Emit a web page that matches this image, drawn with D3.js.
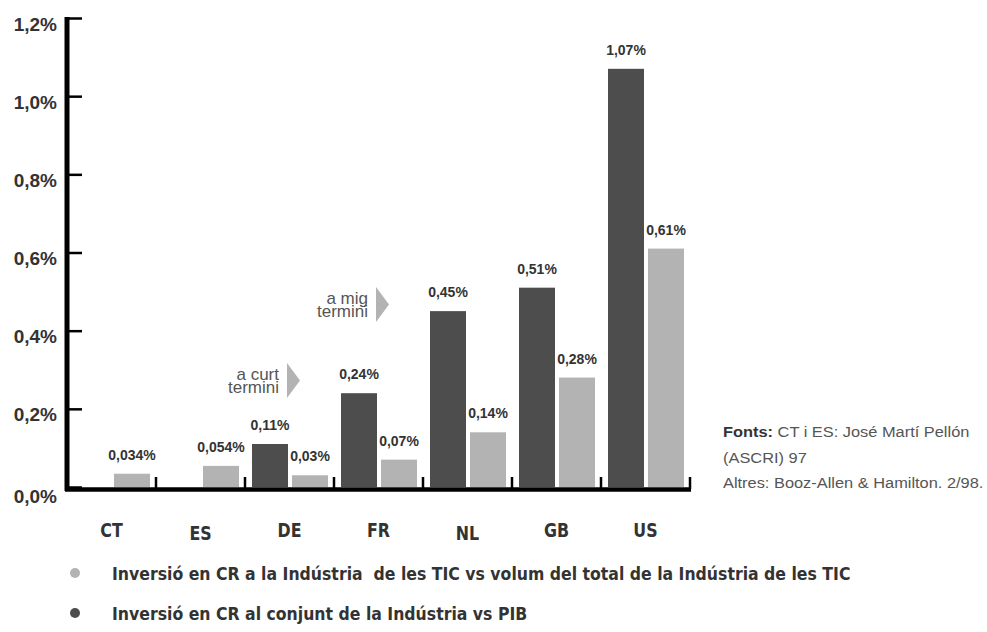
<!DOCTYPE html>
<html>
<head>
<meta charset="utf-8">
<script src="https://cdn.jsdelivr.net/npm/d3@7"></script>
<style>
  body { margin: 0; background: #fff; }
  svg { display: block; }
  .num { font-family: "Liberation Sans", Arial, sans-serif; font-weight: bold; fill: #333; }
  .narrow { font-family: "Liberation Sans Narrow", "DejaVu Sans Condensed", "Arial Narrow", sans-serif; font-weight: bold; fill: #333; white-space: pre; }
  .note { font-family: "Liberation Sans", Arial, sans-serif; fill: #555; }
</style>
</head>
<body>
<div id="chart"></div>
<script>
var categories = ["CT", "ES", "DE", "FR", "NL", "GB", "US"];
// Inversió en CR al conjunt de la Indústria vs PIB (fosc), null = sense dada
var darkValues = [null, null, 0.11, 0.24, 0.45, 0.51, 1.07];
// Inversió en CR a la Indústria de les TIC vs volum TIC (clar)
var lightValues = [0.034, 0.054, 0.03, 0.07, 0.14, 0.28, 0.61];
var yTicks = [0, 0.2, 0.4, 0.6, 0.8, 1.0, 1.2];
var legendLabels = [
    "Inversió en CR a la Indústria  de les TIC vs volum del total de la Indústria de les TIC",
    "Inversió en CR al conjunt de la Indústria vs PIB"
];
var notes = [
    {lines: ["a curt", "termini"], cat: "FR", level: 0.2725},
    {lines: ["a mig", "termini"], cat: "NL", level: 0.467}
];
var sources = ["CT i ES: José Martí Pellón", "(ASCRI) 97", "Altres: Booz-Allen & Hamilton. 2/98."];

var darkColor = "#4d4d4d", lightColor = "#b3b3b3";

var svg = d3.select("#chart").append("svg")
    .attr("width", 987)
    .attr("height", 632);

// squeeze or stretch a text to k times its natural width
function fitText(sel, k){
    sel.each(function(){
        var w = this.getComputedTextLength();
        d3.select(this).attr("textLength", w * k).attr("lengthAdjust", "spacingAndGlyphs");
    });
}

var x = d3.scaleBand()
    .domain(categories)
    .range([67, 690])
    .paddingInner(0)
    .paddingOuter(0);

var x1 = d3.scaleBand()
    .domain(["dark", "light"])
    .range([7, 83])
    .paddingInner(0.1);

var y = d3.scaleLinear()
    .domain([0, 1.2])
    .range([487, 18]);

var loc = d3.formatLocale({decimal: ",", thousands: ".", grouping: [3], currency: ["", "€"]});
var tickFmt = loc.format(".1f");
var valFmt = loc.format("~g");

// bars
var rows = [];
categories.forEach(function(c, i){
    if(darkValues[i] != null) rows.push({cat: c, key: "dark", v: darkValues[i]});
    if(lightValues[i] != null) rows.push({cat: c, key: "light", v: lightValues[i]});
});

svg.append("g").selectAll("rect")
    .data(rows)
    .enter().append("rect")
    .attr("x", function(d){ return x(d.cat) + x1(d.key); })
    .attr("width", x1.bandwidth())
    .attr("y", function(d){ return y(d.v); })
    .attr("height", function(d){ return y(0) - y(d.v); })
    .attr("fill", function(d){ return d.key == "dark" ? darkColor : lightColor; });

svg.append("g").selectAll("text")
    .data(rows)
    .enter().append("text")
    .attr("class", "num")
    .attr("font-size", 14)
    .attr("text-anchor", "middle")
    .attr("x", function(d){ return x(d.cat) + x1(d.key) + x1.bandwidth() / 2; })
    .attr("y", function(d){ return y(d.v) - 14; })
    .text(function(d){ return valFmt(d.v) + "%"; });

// y axis
var yAxis = d3.axisLeft(y)
    .tickValues(yTicks)
    .tickSizeInner(-15)
    .tickSizeOuter(0)
    .tickPadding(10)
    .tickFormat(function(d){ return tickFmt(d) + "%"; });

var gy = svg.append("g")
    .attr("transform", "translate(67,0)")
    .call(yAxis);
gy.attr("font-family", null).attr("font-size", null);
gy.select(".domain").attr("stroke", "#000").attr("stroke-width", 5).attr("d", "M0,17V491");
gy.selectAll(".tick line").attr("stroke", "#000").attr("stroke-width", 2.5);
gy.selectAll(".tick text")
    .attr("class", "num")
    .attr("font-size", 19)
    .attr("dy", function(d){ return d == 0 ? 15 : 12; });

// x axis
svg.append("line")
    .attr("x1", 65).attr("x2", x.range()[1] + 1)
    .attr("y1", y(0) + 2.5).attr("y2", y(0) + 2.5)
    .attr("stroke", "#000").attr("stroke-width", 4.5);

svg.append("g").selectAll("line")
    .data(categories)
    .enter().append("line")
    .attr("x1", function(d){ return x(d) + x.bandwidth(); })
    .attr("x2", function(d){ return x(d) + x.bandwidth(); })
    .attr("y1", y(0) - 10).attr("y2", y(0) + 2)
    .attr("stroke", "#000").attr("stroke-width", 2.5);

var labelShift = {ES: 3, NL: 3};
svg.append("g").selectAll("text")
    .data(categories)
    .enter().append("text")
    .attr("class", "narrow")
    .attr("font-size", 20)
    .attr("text-anchor", "middle")
    .attr("x", function(d){ return x(d) + x.bandwidth() / 2; })
    .attr("y", function(d){ return 537 + (labelShift[d] || 0); })
    .text(function(d){ return d; })
    .call(fitText, 0.88);

// annotations with arrows
notes.forEach(function(n){
    var tip = x(n.cat) - 34;
    var cy = y(n.level);
    svg.append("path")
        .attr("d", "M" + (tip - 13) + "," + (cy - 17.5) + "L" + tip + "," + cy + "L" + (tip - 13) + "," + (cy + 17.5) + "Z")
        .attr("fill", lightColor);
    var t = svg.append("text")
        .attr("class", "note")
        .attr("font-size", 17)
        .attr("text-anchor", "end")
        .attr("y", cy - 0.5);
    n.lines.forEach(function(l, i){
        t.append("tspan")
            .attr("x", tip - 21)
            .attr("dy", i == 0 ? 0 : 13)
            .text(l);
    });
});

// sources
var src = svg.append("g").attr("class", "note").attr("font-size", 14);
sources.forEach(function(s, i){
    var t = src.append("text").attr("x", 723).attr("y", 437 + i * 25.5);
    if(i == 0){
        t.append("tspan").attr("font-weight", "bold").attr("fill", "#333").text("Fonts: ");
    }
    t.append("tspan").text(s);
    t.call(fitText, 1.17);
});

// legend
var legendColors = [lightColor, darkColor];
var lg = svg.append("g").selectAll("g")
    .data(legendLabels)
    .enter().append("g")
    .attr("transform", function(d, i){ return "translate(0," + (i * 40) + ")"; });
lg.append("circle")
    .attr("cx", 75).attr("cy", 573).attr("r", 5)
    .attr("fill", function(d, i){ return legendColors[i]; });
lg.append("text")
    .attr("class", "narrow")
    .attr("font-size", 18)
    .attr("x", 112).attr("y", 580)
    .text(function(d){ return d; })
    .call(fitText, 0.97);
</script>
</body>
</html>
